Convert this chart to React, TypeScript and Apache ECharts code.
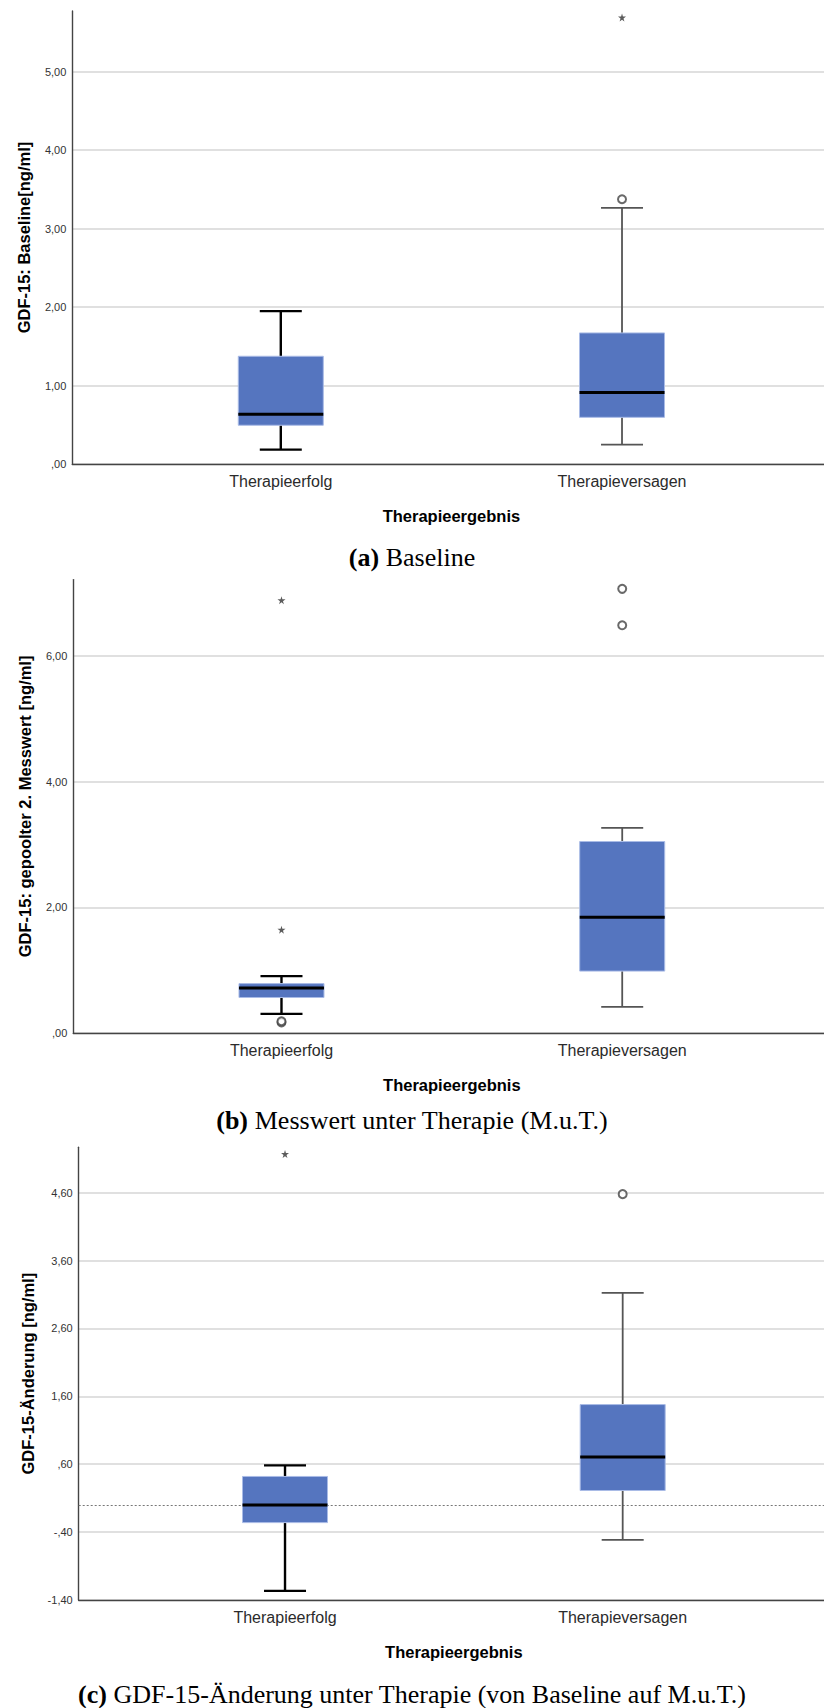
import React, { useEffect, useRef } from "react";
import * as echarts from "echarts";

// ---------- data ----------
const categories = ["Therapieerfolg", "Therapieversagen"];
const xTitle = "Therapieergebnis";

// [lower whisker, Q1, median, Q3, upper whisker]
const baselineBox = [
  [0.186, 0.496, 0.635, 1.375, 1.95],
  [0.25, 0.597, 0.913, 1.672, 3.264],
];
const baselineOutliers = [[1, 3.375]];
const baselineExtremes = [[1, 5.69]];

const mutBox = [
  [0.307, 0.568, 0.721, 0.789, 0.908],
  [0.42, 0.988, 1.846, 3.05, 3.266],
];
const mutOutliers = [
  [0, 0.17],
  [0, 0.19],
  [1, 6.49],
  [1, 7.07],
];
const mutExtremes = [
  [0, 1.647],
  [0, 6.89],
];

const changeBox = [
  [-1.265, -0.26, 0.0, 0.42, 0.583],
  [-0.515, 0.213, 0.707, 1.479, 3.124],
];
const changeOutliers = [[1, 4.579]];
const changeExtremes = [[0, 5.17]];

const yNames = [
  "GDF-15: Baseline[ng/ml]",
  "GDF-15: gepoolter 2. Messwert [ng/ml]",
  "GDF-15-Änderung [ng/ml]",
];
const yMin = [0, 0, -1.4];
const yMax = [5.774, 7.217, 5.269];
const yInterval = [1, 2, 1];

const captionLabels = ["(a)", "(b)", "(c)"];
const captionTexts = [
  "Baseline",
  "Messwert unter Therapie (M.u.T.)",
  "GDF-15-Änderung unter Therapie (von Baseline auf M.u.T.)",
];

// ---------- layout / style ----------
const grids = [
  { left: 72.3, top: 10.9, width: 758.2, height: 453.3 },
  { left: 73.3, top: 579.6, width: 757.1, height: 453.6 },
  { left: 78.7, top: 1147.3, width: 750.3, height: 452.7 },
];
const captionY = [557, 1120.5, 1694.5];
const X_MIN = -0.611;
const X_MAX = 1.611;
const BOX_HALF = 42.5;
const CAP_HALF = 21;
const SANS = "'Liberation Sans', Arial, sans-serif";
const SERIF = "'Liberation Serif', 'Times New Roman', serif";
const STAR =
  "path://M50,0 L61,35 L98,35 L68,57 L79,91 L50,70 L21,91 L32,57 L2,35 L39,35 Z";

function fmt(v: number): string {
  let s = v.toFixed(2).replace(".", ",");
  s = s.replace(/^0,/, ",").replace(/^-0,/, "-,");
  return s;
}

function renderBox(params: any, api: any) {
  const x = api.value(0);
  const lw = api.value(1);
  const q1 = api.value(2);
  const med = api.value(3);
  const q3 = api.value(4);
  const uw = api.value(5);
  const cx = api.coord([x, lw])[0];
  const yLw = api.coord([x, lw])[1];
  const yQ1 = api.coord([x, q1])[1];
  const yMed = api.coord([x, med])[1];
  const yQ3 = api.coord([x, q3])[1];
  const yUw = api.coord([x, uw])[1];
  const strong = params.dataIndex === 0;
  const ws = {
    stroke: strong ? "#000" : "#555",
    lineWidth: strong ? 2.4 : 1.8,
    fill: null,
  };
  return {
    type: "group",
    children: [
      { type: "line", shape: { x1: cx, y1: yQ3, x2: cx, y2: yUw }, style: ws },
      { type: "line", shape: { x1: cx, y1: yQ1, x2: cx, y2: yLw }, style: ws },
      {
        type: "line",
        shape: { x1: cx - CAP_HALF, y1: yUw, x2: cx + CAP_HALF, y2: yUw },
        style: ws,
      },
      {
        type: "line",
        shape: { x1: cx - CAP_HALF, y1: yLw, x2: cx + CAP_HALF, y2: yLw },
        style: ws,
      },
      {
        type: "rect",
        shape: { x: cx - BOX_HALF, y: yQ3, width: 2 * BOX_HALF, height: yQ1 - yQ3 },
        style: { fill: "#5575bf", stroke: "#a9bbe6", lineWidth: 1 },
      },
      {
        type: "line",
        shape: { x1: cx - BOX_HALF, y1: yMed, x2: cx + BOX_HALF, y2: yMed },
        style: { stroke: "#000", lineWidth: 3 },
      },
    ],
  };
}

export default function App() {
  const ref = useRef<HTMLDivElement>(null);

  useEffect(() => {
    if (!ref.current) return;
    const chart = echarts.init(ref.current, null, { renderer: "svg" });

    const boxes = [baselineBox, mutBox, changeBox];
    const outliers = [baselineOutliers, mutOutliers, changeOutliers];
    const extremes = [baselineExtremes, mutExtremes, changeExtremes];

    const series: any[] = [];
    for (let i = 0; i < 3; i++) {
      series.push({
        type: "custom",
        xAxisIndex: i,
        yAxisIndex: i,
        renderItem: renderBox,
        encode: { x: 0, y: [1, 2, 3, 4, 5] },
        data: boxes[i].map((b, k) => [k, ...b]),
        z: 3,
      });
      const sc: any = {
        type: "scatter",
        xAxisIndex: i,
        yAxisIndex: i,
        symbol: "emptyCircle",
        symbolSize: 8,
        itemStyle: { color: "#444", borderColor: "#444", borderWidth: 1.4 },
        data: outliers[i],
        z: 4,
      };
      if (i === 2) {
        sc.markLine = {
          silent: true,
          symbol: ["none", "none"],
          label: { show: false },
          lineStyle: { color: "#777", type: [2, 2], width: 1 },
          data: [{ yAxis: 0 }],
          z: 2,
        };
      }
      series.push(sc);
      series.push({
        type: "scatter",
        xAxisIndex: i,
        yAxisIndex: i,
        symbol: STAR,
        symbolSize: 8,
        itemStyle: { color: "#333" },
        data: extremes[i],
        z: 4,
      });
    }

    chart.setOption({
      animation: false,
      backgroundColor: "#fff",
      grid: grids.map((g) => ({ ...g, containLabel: false })),
      xAxis: grids.map((_, i) => ({
        type: "value",
        gridIndex: i,
        min: X_MIN,
        max: X_MAX,
        name: xTitle,
        nameLocation: "middle",
        nameGap: 43,
        nameTextStyle: {
          fontFamily: SANS,
          fontWeight: "bold",
          fontSize: 16.5,
          color: "#000",
        },
        axisLine: {
          show: true,
          onZero: false,
          lineStyle: { color: "#444", width: 1.4 },
        },
        axisTick: { show: false },
        splitLine: { show: false },
        axisLabel: {
          customValues: [0, 1],
          formatter: (v: number) => categories[Math.round(v)] ?? "",
          fontFamily: SANS,
          fontSize: 16,
          color: "#2b2b2b",
          margin: 9,
        },
      })),
      yAxis: grids.map((_, i) => ({
        type: "value",
        gridIndex: i,
        min: yMin[i],
        max: yMax[i],
        interval: yInterval[i],
        name: yNames[i],
        nameLocation: "middle",
        nameGap: 40,
        nameTextStyle: {
          fontFamily: SANS,
          fontWeight: "bold",
          fontSize: 16.5,
          color: "#000",
        },
        axisLine: {
          show: true,
          onZero: false,
          lineStyle: { color: "#444", width: 1.4 },
        },
        axisTick: { show: false },
        splitLine: {
          show: true,
          showMaxLine: false,
          lineStyle: { color: "#d6d6d6", width: 1.6 },
        },
        axisLabel: {
          formatter: (v: number) => fmt(v),
          showMaxLabel: false,
          fontFamily: SANS,
          fontSize: 11,
          color: "#333",
          margin: 6,
        },
      })),
      series,
      graphic: captionTexts.map((t, i) => ({
        type: "text",
        x: 412,
        y: captionY[i],
        style: {
          text: `{b|${captionLabels[i]}} ${t}`,
          rich: {
            b: {
              fontFamily: SERIF,
              fontWeight: "bold",
              fontSize: 26,
              fill: "#000",
            },
          },
          fontFamily: SERIF,
          fontSize: 26,
          fill: "#000",
          align: "center",
          verticalAlign: "middle",
        },
      })),
    });

    return () => chart.dispose();
  }, []);

  return (
    <div
      style={{
        position: "absolute",
        left: 0,
        top: 0,
        width: 824,
        height: 1708,
        overflow: "hidden",
        background: "#fff",
      }}
    >
      <div ref={ref} style={{ width: 832, height: 1708 }} />
    </div>
  );
}
